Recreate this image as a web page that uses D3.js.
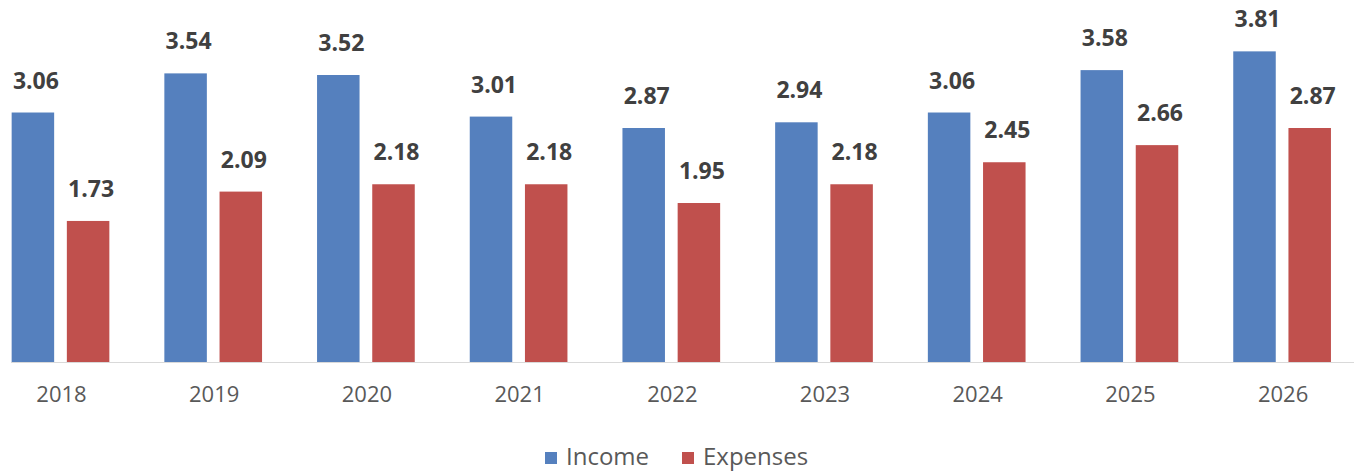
<!DOCTYPE html>
<html>
<head>
<meta charset="utf-8">
<script src="https://cdn.jsdelivr.net/npm/d3@7/dist/d3.min.js"></script>
<style>
  html, body { margin: 0; padding: 0; background: #ffffff; }
  svg { display: block; }
</style>
</head>
<body>
<svg id="chart" width="1354" height="473"></svg>
<script>
// Yearly figures for the two series
const years = ["2018", "2019", "2020", "2021", "2022", "2023", "2024", "2025", "2026"];
const income = [3.06, 3.54, 3.52, 3.01, 2.87, 2.94, 3.06, 3.58, 3.81];
const expenses = [1.73, 2.09, 2.18, 2.18, 1.95, 2.18, 2.45, 2.66, 2.87];
const seriesNames = ["Income", "Expenses"];
const seriesColors = ["#5580BE", "#C0504D"];

const W = 1354, H = 473;
const svg = d3.select("#chart");
const font = "'Open Sans', 'Noto Sans', sans-serif";

const baseY = 362;
const y = d3.scaleLinear().domain([0, 4.44]).range([baseY, 0]);

// one band per year, then one sub-band per series inside it
const x = d3.scaleBand().domain(years).range([-15.85, 1358.45]).paddingInner(0).paddingOuter(0);
const xs = d3.scaleBand().domain(seriesNames).range([27.5, 125.2]).paddingInner(0.23).paddingOuter(0);

const rows = years.map((yr, i) => ({ year: yr, values: [income[i], expenses[i]] }));

const groups = svg.append("g").selectAll("g")
  .data(rows).join("g")
  .attr("transform", d => `translate(${x(d.year)},0)`);

groups.selectAll("rect")
  .data(d => d.values.map((v, k) => ({ key: seriesNames[k], value: v, k })))
  .join("rect")
  .attr("x", d => xs(d.key))
  .attr("y", d => y(d.value))
  .attr("width", xs.bandwidth())
  .attr("height", d => baseY - y(d.value))
  .attr("fill", d => seriesColors[d.k]);

groups.selectAll("text.val")
  .data(d => d.values.map((v, k) => ({ key: seriesNames[k], value: v, k })))
  .join("text")
  .attr("class", "val")
  .attr("x", d => xs(d.key) + xs.bandwidth() / 2 + 3)
  .attr("y", d => y(d.value) - 24)
  .attr("text-anchor", "middle")
  .attr("font-family", font)
  .attr("font-weight", "bold")
  .attr("font-size", 23)
  .attr("fill", "#404040")
  .text(d => d.value.toFixed(2));

// category axis
const axis = d3.axisBottom(x).tickSize(0).tickPadding(24);
const gAxis = svg.append("g").attr("transform", `translate(0,${baseY})`).call(axis);
gAxis.select(".domain").remove();
gAxis.selectAll("text")
  .attr("font-family", font)
  .attr("font-size", 22)
  .attr("fill", "#595959")
  .attr("dx", 1);
svg.append("line")
  .attr("x1", 11).attr("x2", W)
  .attr("y1", baseY + 0.5).attr("y2", baseY + 0.5)
  .attr("stroke", "#D9D9D9").attr("stroke-width", 1);

// legend
const legend = svg.append("g");
const legendItems = [
  { name: seriesNames[0], color: seriesColors[0], x: 545 },
  { name: seriesNames[1], color: seriesColors[1], x: 682 }
];
legendItems.forEach(it => {
  legend.append("rect")
    .attr("x", it.x).attr("y", 452).attr("width", 12).attr("height", 12)
    .attr("fill", it.color);
  legend.append("text")
    .attr("x", it.x + 21).attr("y", 465)
    .attr("font-family", font)
    .attr("font-size", 24)
    .attr("fill", "#595959")
    .text(it.name);
});
</script>
</body>
</html>
